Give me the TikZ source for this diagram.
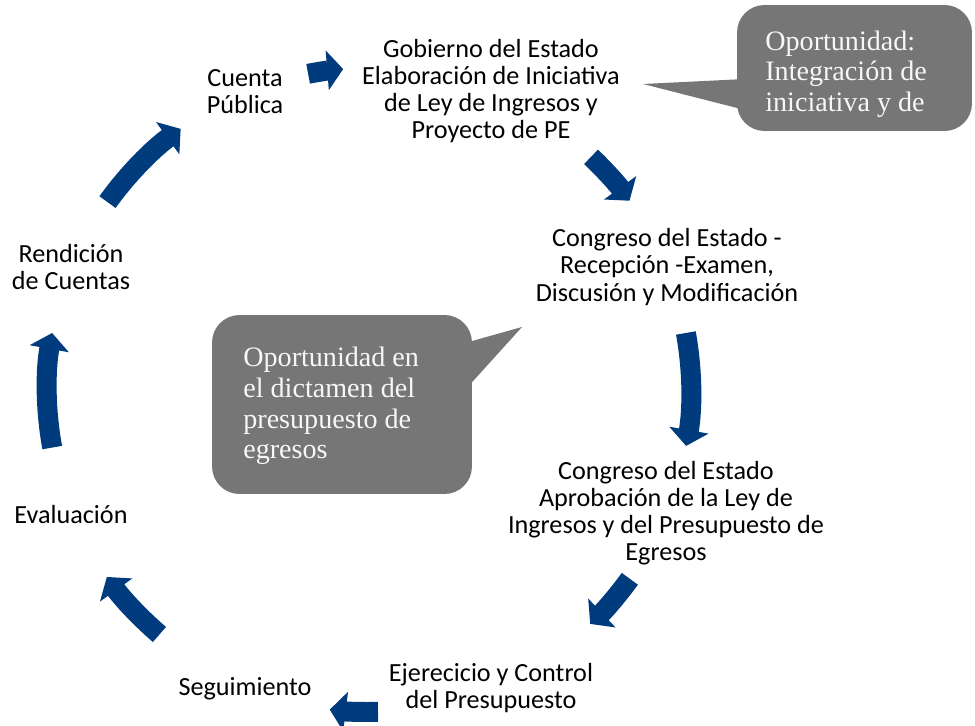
\documentclass[tikz,border=0pt]{standalone}
\usepackage{fontspec}
\setmainfont{Carlito}
\newfontfamily\calloutfont{Liberation Serif}
\usepackage{tikz}
\usetikzlibrary{arrows.meta,calc}
\definecolor{cycleblue}{RGB}{0,60,125}
\definecolor{calloutgray}{RGB}{118,118,118}

\begin{document}
\begin{tikzpicture}[x=0.02cm, y=0.02cm,
        cyclelabel/.style={align=center, font=\fontsize{14.9}{15.4}\selectfont},
        cyclearrow/.style={cycleblue, line width=0.4cm, -{Triangle[length=0.32cm, width=0.78cm]}},
        calloutbox/.style={fill=calloutgray, rounded corners=0.55cm, inner sep=0pt},
        callouttext/.style={align=left, text=gray!6, inner sep=0pt, font=\calloutfont\fontsize{16}{17.4}\selectfont}]
        \useasboundingbox (0,0) rectangle (975,725);
        \coordinate (ctr) at (369,335);
        % the steps of the cycle
        \node[cyclelabel] (cuenta) at (245,633) {Cuenta\\Pública};
        \node[cyclelabel] (gobierno) at (491,634) {Gobierno del Estado\\Elaboración de Iniciativa\\de Ley de Ingresos y\\Proyecto de PE};
        \node[cyclelabel] (recepcion) at (667,458) {Congreso del Estado -\\Recepción -Examen,\\Discusión y Modificación};
        \node[cyclelabel] (aprobacion) at (666,212) {Congreso del Estado\\Aprobación de la Ley de\\Ingresos y del Presupuesto de\\Egresos};
        \node[cyclelabel] (ejercicio) at (491,37) {Ejerecicio y Control\\del Presupuesto};
        \node[cyclelabel] (seguimiento) at (245,36) {Seguimiento};
        \node[cyclelabel] (evaluacion) at (71,210) {Evaluación};
        \node[cyclelabel] (rendicion) at (71,458) {Rendición\\de Cuentas};
        % arrows on the circle
        \foreach \from/\to in {100.9/94.6, 46.4/36, 10.2/-10, -35.9/-46.6, -88.4/-97, -130.6/-144.5, 190.3/169.8, 144.3/125.8}
            \draw[cyclearrow] ($(ctr)+(\from:322)$) arc[start angle=\from, end angle=\to, radius=322];
        % callouts
        \node[calloutbox, minimum width=4.7cm, minimum height=2.52cm] (opbox1) at (854.5,657) {};
        \coordinate (optip1) at (643,641);
        \fill[calloutgray] (optip1) -- (745,646) -- (745,615) -- cycle;
        \node[callouttext, anchor=west] (optext1) at (765,651) {Oportunidad:\\Integración de\\iniciativa y de};
        \node[calloutbox, minimum width=5.2cm, minimum height=3.58cm] (opbox2) at (342,320.5) {};
        \coordinate (optip2) at (522,398);
        \fill[calloutgray] (optip2) -- (465,382) -- (465,335) -- cycle;
        \node[callouttext, anchor=west] (optext2) at (243,319) {Oportunidad en\\el dictamen del\\presupuesto de\\egresos};
    \end{tikzpicture}
\end{document}
